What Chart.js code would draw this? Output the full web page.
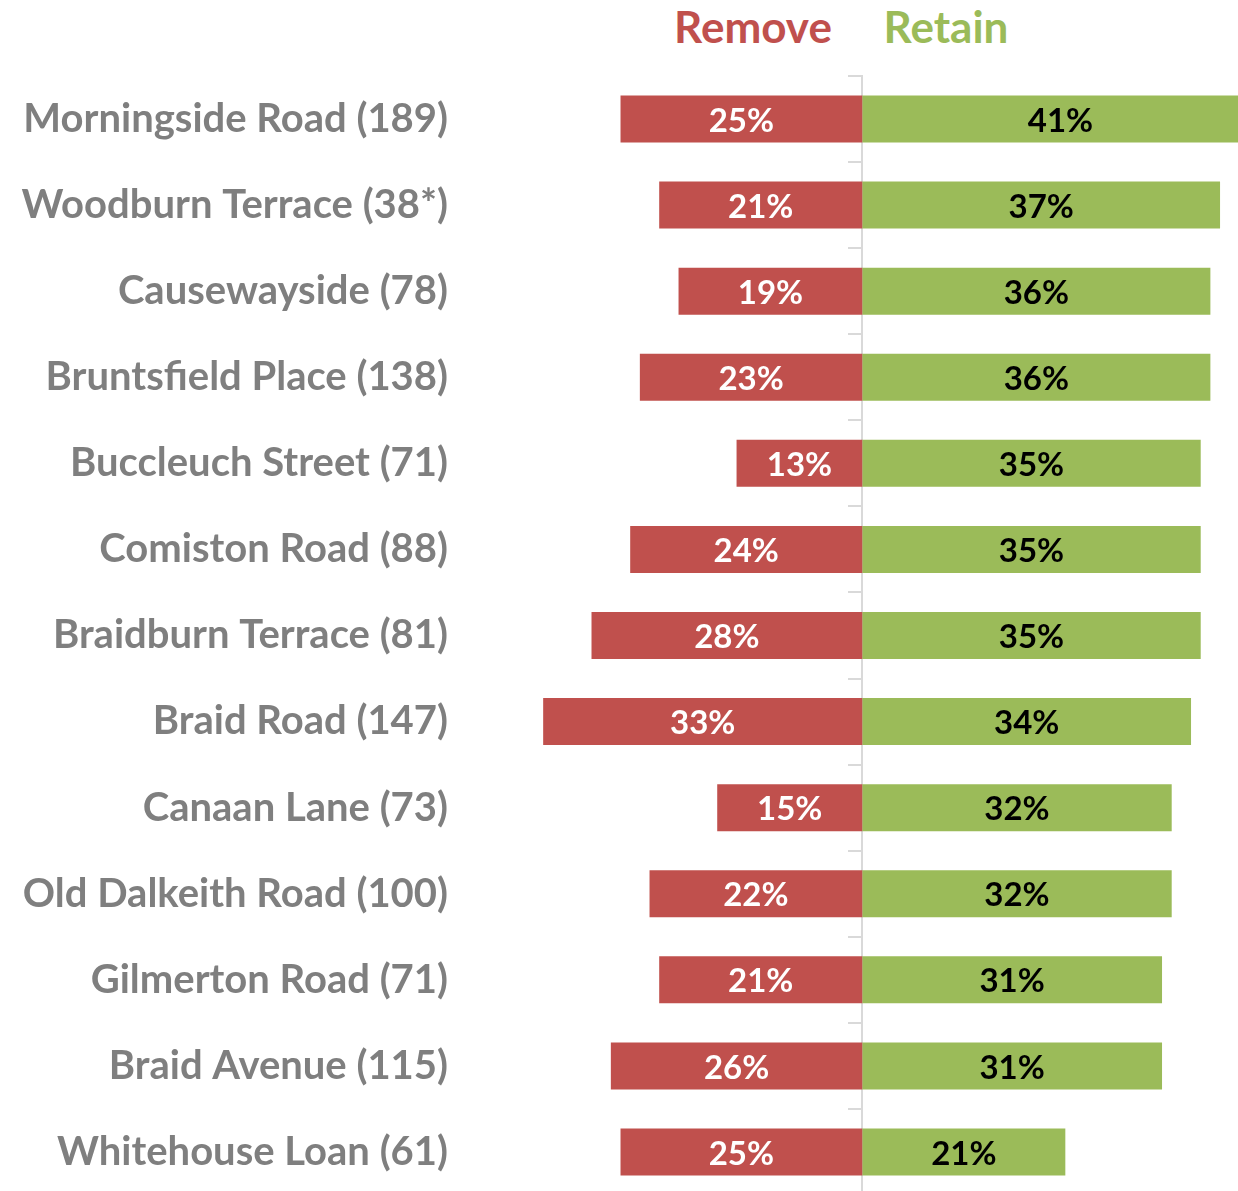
<!DOCTYPE html>
<html>
<head>
<meta charset="utf-8">
<script src="https://cdn.jsdelivr.net/npm/chart.js@4"></script>
<style>
  html, body { margin: 0; padding: 0; background: #fff; overflow: hidden; }
  #wrap { position: relative; width: 1238px; height: 1191px; overflow: hidden; }
  .head { position: absolute; top: 0; width: 200px; line-height: 52px; text-align: center;
          font: bold 44px Lato, sans-serif; }
  canvas { position: absolute; left: 0; top: 0; }
</style>
</head>
<body>
<div id="wrap">
  <div class="head" style="left:653px;color:#C0504D">Remove</div>
  <div class="head" style="left:846px;color:#9BBB59">Retain</div>
  <canvas id="chart" width="1280" height="1223"></canvas>
</div>
<script>
// street (responses), % wanting to remove / retain
const roads = [
  'Morningside Road (189)', 'Woodburn Terrace (38*)', 'Causewayside (78)',
  'Bruntsfield Place (138)', 'Buccleuch Street (71)', 'Comiston Road (88)',
  'Braidburn Terrace (81)', 'Braid Road (147)', 'Canaan Lane (73)',
  'Old Dalkeith Road (100)', 'Gilmerton Road (71)', 'Braid Avenue (115)',
  'Whitehouse Loan (61)'
];
const removePct = [25, 21, 19, 23, 13, 24, 28, 33, 15, 22, 21, 26, 25];
const retainPct = [41, 37, 36, 36, 35, 35, 35, 34, 32, 32, 31, 31, 21];

const RED   = '#C0504D';
const GREEN = '#9BBB59';
const FONT  = 'Lato, sans-serif';

// write the % inside each bar
const barLabels = {
  id: 'barLabels',
  afterDatasetsDraw(chart) {
    const ctx = chart.ctx;
    ctx.save();
    ctx.font = 'bold 33px ' + FONT;
    ctx.textAlign = 'center';
    ctx.textBaseline = 'middle';
    chart.data.datasets.forEach((ds, di) => {
      chart.getDatasetMeta(di).data.forEach((bar, i) => {
        ctx.fillStyle = ds.labelColor;
        ctx.fillText(Math.abs(ds.data[i]) + '%', (bar.x + bar.base) / 2, bar.y + 2);
      });
    });
    ctx.restore();
  }
};

new Chart(document.getElementById('chart'), {
  type: 'bar',
  data: {
    labels: roads,
    datasets: [
      { label: 'Remove', data: removePct.map(v => -v), backgroundColor: RED, labelColor: '#FFFFFF' },
      { label: 'Retain', data: retainPct, backgroundColor: GREEN, labelColor: '#000000' },
    ],
  },
  options: {
    indexAxis: 'y',
    responsive: false,
    animation: false,
    barPercentage: 0.546,
    categoryPercentage: 1,
    layout: { padding: { top: 76, bottom: 0, left: 0, right: 0 } },
    plugins: { legend: { display: false }, tooltip: { enabled: false } },
    scales: {
      x: { type: 'linear', min: -41.6, max: 43.2, stacked: true, display: false },
      y: {
        type: 'category', position: 'left', stacked: true,
        afterFit(s) { s.width = 460; },
        grid: { display: false }, border: { display: false },
        ticks: { padding: 4, color: '#7F7F7F', font: { family: FONT, weight: 'bold', size: 40 } },
      },
      // centre line with small ticks between streets
      yc: {
        axis: 'y', type: 'category', position: { x: 0 }, z: 1, offset: true,
        grid: { drawOnChartArea: false, offset: true, tickLength: 13, color: '#D9D9D9', lineWidth: 2 },
        border: { color: '#D9D9D9', width: 2 },
        ticks: { display: false },
      },
    },
  },
  plugins: [barLabels],
});
</script>
</body>
</html>
